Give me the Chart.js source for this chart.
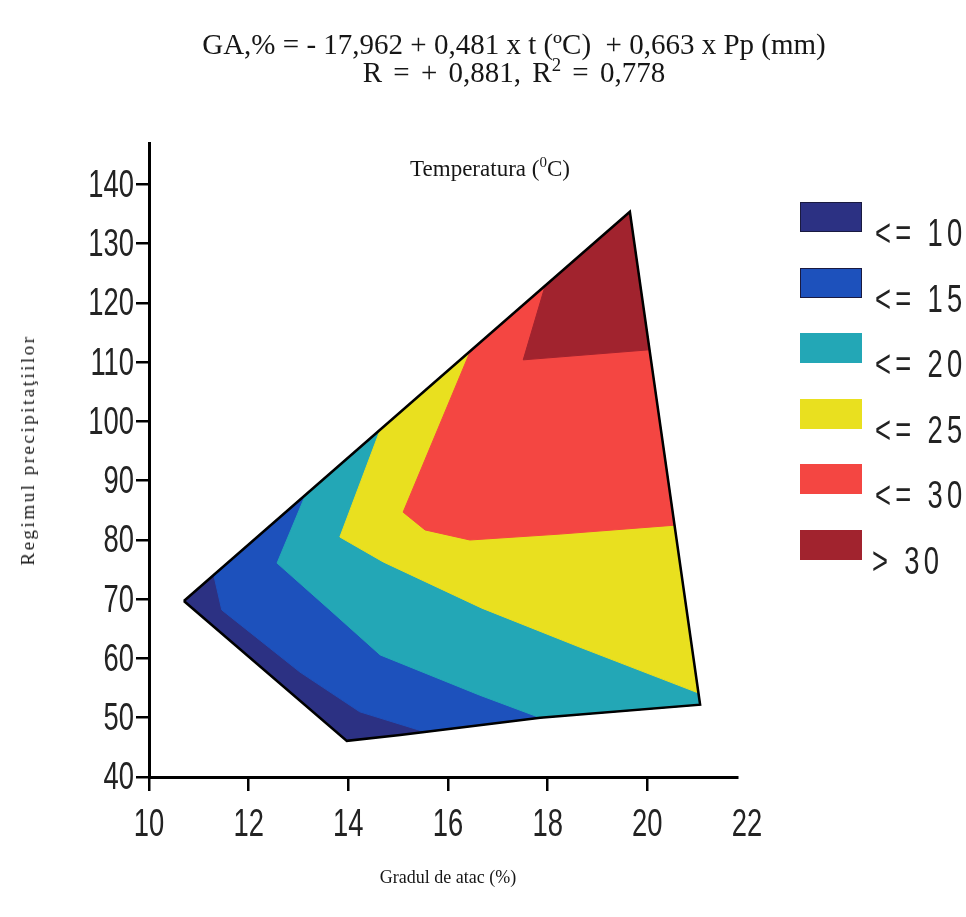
<!DOCTYPE html>
<html>
<head>
<meta charset="utf-8">
<script src="https://cdn.jsdelivr.net/npm/chart.js@4.4.1/dist/chart.umd.min.js"></script>
<style>
  body{margin:0;background:#fff;}
  #wrap{position:relative;width:966px;height:917px;overflow:hidden;background:#fff;}
  #grafikk{position:absolute;left:0;top:0;}
  .serif{position:absolute;font-family:"Liberation Serif","Times New Roman",serif;color:#161616;white-space:nowrap;}
  .tittel{left:14px;width:1000px;text-align:center;font-size:29px;line-height:28px;}
  .akse{font-size:18px;line-height:20px;transform:translate(-50%,-50%);}
  .rute{position:absolute;width:62px;height:30px;box-sizing:border-box;}
  .nivaa{position:absolute;font-family:"Liberation Sans",Arial,sans-serif;font-size:38px;line-height:40px;letter-spacing:6px;color:#222;white-space:nowrap;transform-origin:0 50%;transform:translateY(-50%) scaleX(0.72);}
  sup{font-size:65%;line-height:0;}
</style>
</head>
<body>
<div id="wrap">
  <canvas id="grafikk" width="966" height="917"></canvas>
  <div class="serif tittel" style="top:30px">GA,% = - 17,962 + 0,481 x t (ºC)&nbsp; + 0,663 x Pp (mm)</div>
  <div class="serif tittel" style="top:58px;word-spacing:4px">R = + 0,881, R<sup>2</sup> = 0,778</div>
  <div class="serif akse" style="left:490px;top:169px;font-size:23px">Temperatura (<sup>0</sup>C)</div>
  <div class="serif akse" style="left:448px;top:877px">Gradul de atac (%)</div>
  <div class="serif akse" style="left:28px;top:450px;font-size:19px;letter-spacing:2.5px;transform:translate(-50%,-50%) rotate(-90deg)">Regimul precipitaţiilor</div>
  <div id="forklaring"></div>
</div>
<script>
(()=>{

// aksetall
const xEtiketter = [10, 12, 14, 16, 18, 20, 22];
const yEtiketter = [40, 50, 60, 70, 80, 90, 100, 110, 120, 130, 140];

// intervaller for gradul de atac
const nivaaer = ['<= 10', '<= 15', '<= 20', '<= 25', '<= 30', '> 30'];
const farger  = ['#2c3183', '#1d51bc', '#23a7b6', '#e9e01f', '#f44642', '#a1232e'];

// hele området (t, Pp) – startflaten for <= 10
const omraade = [[10.70,69.7],[19.65,135.4],[21.06,52.2],[17.85,50.0],[15.04,47.1],[13.97,46.1]];
// flater over hver grense, tegnes oppå hverandre
const over10 = [[11.30,74.1],[11.46,68.2],[13.03,57.7],[14.23,51.0],[15.54,47.6],[17.85,50.0],[21.06,52.2],[19.65,135.4]];
const over15 = [[13.13,87.4],[12.57,76.1],[13.63,68.2],[14.64,60.6],[16.64,53.8],[17.85,50.0],[21.06,52.2],[19.65,135.4]];
const over20 = [[14.64,98.6],[13.83,80.5],[14.70,76.3],[16.68,68.5],[18.65,61.9],[21.02,54.2],[19.65,135.4]];
const over25 = [[16.44,111.7],[15.10,84.7],[15.54,81.7],[16.44,80.0],[18.25,81.0],[20.55,82.5],[19.65,135.4]];
const over30 = [[17.95,122.9],[17.51,110.4],[20.04,112.1],[19.65,135.4]];
const flater = [omraade, over10, over15, over20, over25, over30];

// lukket polygon som {x,y}
function lukk(pts){
  const d = pts.map(p=>({x:p[0], y:p[1]}));
  d.push({x:pts[0][0], y:pts[0][1]});
  return d;
}

// første datasett tegnes øverst, så omrisset først og flatene baklengs
const datasets = [{
  data: lukk(omraade), showLine:true, fill:false,
  borderColor:'#000', borderWidth:2.5, pointRadius:0, tension:0
}];
for(let i=flater.length-1;i>=0;i--){
  datasets.push({
    data: lukk(flater[i]), showLine:true, fill:'shape',
    backgroundColor: farger[i], borderColor: farger[i], borderWidth:1,
    pointRadius:0, tension:0
  });
}

// smale, høye tall ved aksene
function skrivSmal(ctx, tekst, px, py, just){
  ctx.save();
  ctx.translate(px, py);
  ctx.scale(0.72, 1);
  ctx.textAlign = just;
  ctx.fillText(tekst, 0, 0);
  ctx.restore();
}
const aksetall = {
  id:'aksetall',
  afterDraw(chart){
    const ctx = chart.ctx, xs = chart.scales.x, ys = chart.scales.y;
    ctx.save();
    ctx.font = '38px "Liberation Sans", Arial, sans-serif';
    ctx.fillStyle = '#232323';
    ctx.textBaseline = 'middle';
    yEtiketter.forEach(v=>skrivSmal(ctx, String(v), 134, ys.getPixelForValue(v)+2, 'right'));
    xEtiketter.forEach(v=>skrivSmal(ctx, String(v), xs.getPixelForValue(v), 826, 'center'));
    ctx.restore();
  }
};

new Chart(document.getElementById('grafikk'), {
  type:'scatter',
  data:{datasets},
  plugins:[aksetall],
  options:{
    responsive:false,
    animation:false,
    events:[],
    layout:{padding:{top:143, right:229, left:0, bottom:0}},
    plugins:{legend:{display:false}, tooltip:{enabled:false}},
    scales:{
      x:{
        type:'linear', min:10, max:21.8,
        ticks:{stepSize:2, includeBounds:false, display:false},
        grid:{drawOnChartArea:false, tickLength:14, color:'#000', lineWidth:2.5},
        border:{color:'#000', width:3},
        afterFit(s){ s.height = 140; }
      },
      y:{
        type:'linear', min:40, max:147,
        ticks:{stepSize:10, includeBounds:false, display:false},
        grid:{drawOnChartArea:false, tickLength:13, color:'#000', lineWidth:2.5},
        border:{color:'#000', width:3},
        afterFit(s){ s.width = 149; }
      }
    }
  }
});

// forklaring til høyre
const boks = document.getElementById('forklaring');
nivaaer.forEach((tekst,i)=>{
  const topp = 202 + i*65.6;
  const r = document.createElement('div');
  r.className = 'rute';
  r.style.left = '800px';
  r.style.top = topp + 'px';
  r.style.background = farger[i];
  if(i<2) r.style.border = '1px solid #1a1a40';
  boks.appendChild(r);
  const t = document.createElement('div');
  t.className = 'nivaa';
  t.style.left = (i===5 ? 872 : 875) + 'px';
  t.style.top = (topp + 31) + 'px';
  t.textContent = tekst;
  boks.appendChild(t);
});

})();
</script>
</body>
</html>
